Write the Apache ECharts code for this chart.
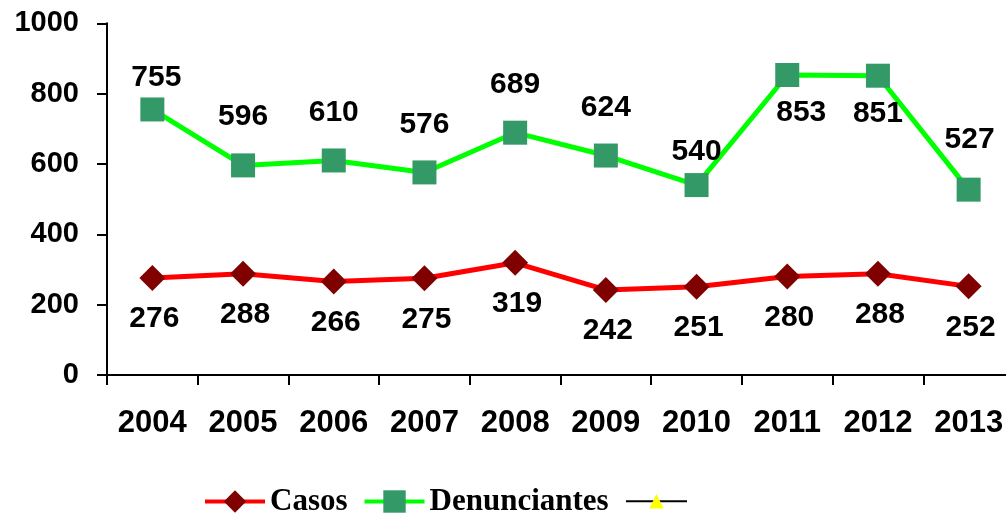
<!DOCTYPE html>
<html>
<head>
<meta charset="utf-8">
<script src="https://cdn.jsdelivr.net/npm/echarts@6/dist/echarts.min.js"></script>
<style>html,body{margin:0;padding:0;background:#fff;}#c{width:1006px;height:515px;}</style>
</head>
<body>
<div id="c"></div>
<script>
var categories = ['2004','2005','2006','2007','2008','2009','2010','2011','2012','2013'];
var casos = [276, 288, 266, 275, 319, 242, 251, 280, 288, 252];
var denunciantes = [755, 596, 610, 576, 689, 624, 540, 853, 851, 527];
var tercera = [null, null, null, null, null, null, null, null, null, null];
var yTicks = [0, 200, 400, 600, 800, 1000];

// label placement (style only): offsets of each label centre from its point
var denLabelOffsets = [[4,-32],[0,-49],[0,-48],[0,-48],[0,-48],[0,-48],[0,-33],[14,38],[0,38],[1,-50]];
var casosLabelOffset = [2, 41];

var labelFont = {fontFamily: 'Arial, "Liberation Sans", sans-serif', fontWeight: 'bold', fontSize: 30, color: '#000'};

var chart = echarts.init(document.getElementById('c'), null, {renderer: 'canvas'});
chart.setOption({
  animation: false,
  backgroundColor: '#fff',
  grid: {left: 107, right: -8, top: 23.3, bottom: 140, containLabel: false, outerBoundsMode: 'none'},
  xAxis: {
    type: 'category',
    data: categories,
    boundaryGap: true,
    axisLine: {lineStyle: {color: '#000', width: 2}},
    axisTick: {show: true, alignWithLabel: false, length: 10, lineStyle: {color: '#000', width: 2}},
    axisLabel: {margin: 33, interval: 0, fontFamily: 'Arial, "Liberation Sans", sans-serif', fontWeight: 'bold', fontSize: 31, color: '#000'},
    splitLine: {show: false}
  },
  yAxis: {
    type: 'value',
    min: yTicks[0],
    max: yTicks[yTicks.length - 1],
    interval: yTicks[1] - yTicks[0],
    axisLine: {show: true, lineStyle: {color: '#000', width: 2}},
    axisTick: {show: true, length: 10, lineStyle: {color: '#000', width: 2}},
    axisLabel: {margin: 28, fontFamily: 'Arial, "Liberation Sans", sans-serif', fontWeight: 'bold', fontSize: 29, color: '#000',
      formatter: function (v) { return String(v); }},
    splitLine: {show: false}
  },
  legend: [{
    data: ['Casos', 'Denunciantes'],
    left: 203,
    top: 486,
    padding: 0,
    itemWidth: 60,
    itemHeight: 28,
    itemGap: 15,
    lineStyle: {width: 4},
    textStyle: {fontFamily: '"Liberation Serif", "Times New Roman", serif', fontWeight: 'bold', fontSize: 31, color: '#000'}
  }, {
    data: [' '],
    left: 625,
    top: 494,
    padding: 0,
    itemWidth: 61,
    itemHeight: 18,
    lineStyle: {width: 2},
    textStyle: {fontSize: 10, color: '#000'}
  }],
  series: [{
    name: 'Casos',
    type: 'line',
    data: casos,
    symbol: 'diamond',
    symbolSize: 26,
    lineStyle: {color: '#FF0000', width: 5},
    itemStyle: {color: '#800000'},
    label: Object.assign({show: true, position: 'inside', offset: casosLabelOffset}, labelFont),
    z: 3
  }, {
    name: 'Denunciantes',
    type: 'line',
    data: denunciantes.map(function (v, i) {
      return {value: v, label: {offset: denLabelOffsets[i]}};
    }),
    symbol: 'rect',
    symbolSize: 24,
    lineStyle: {color: '#00FF00', width: 5},
    itemStyle: {color: '#339966'},
    label: Object.assign({show: true, position: 'inside'}, labelFont),
    z: 3
  }, {
    name: ' ',
    type: 'line',
    data: tercera,
    symbol: 'triangle',
    symbolSize: 14,
    lineStyle: {color: '#000', width: 2},
    itemStyle: {color: '#FFFF00'}
  }]
});
</script>
</body>
</html>
